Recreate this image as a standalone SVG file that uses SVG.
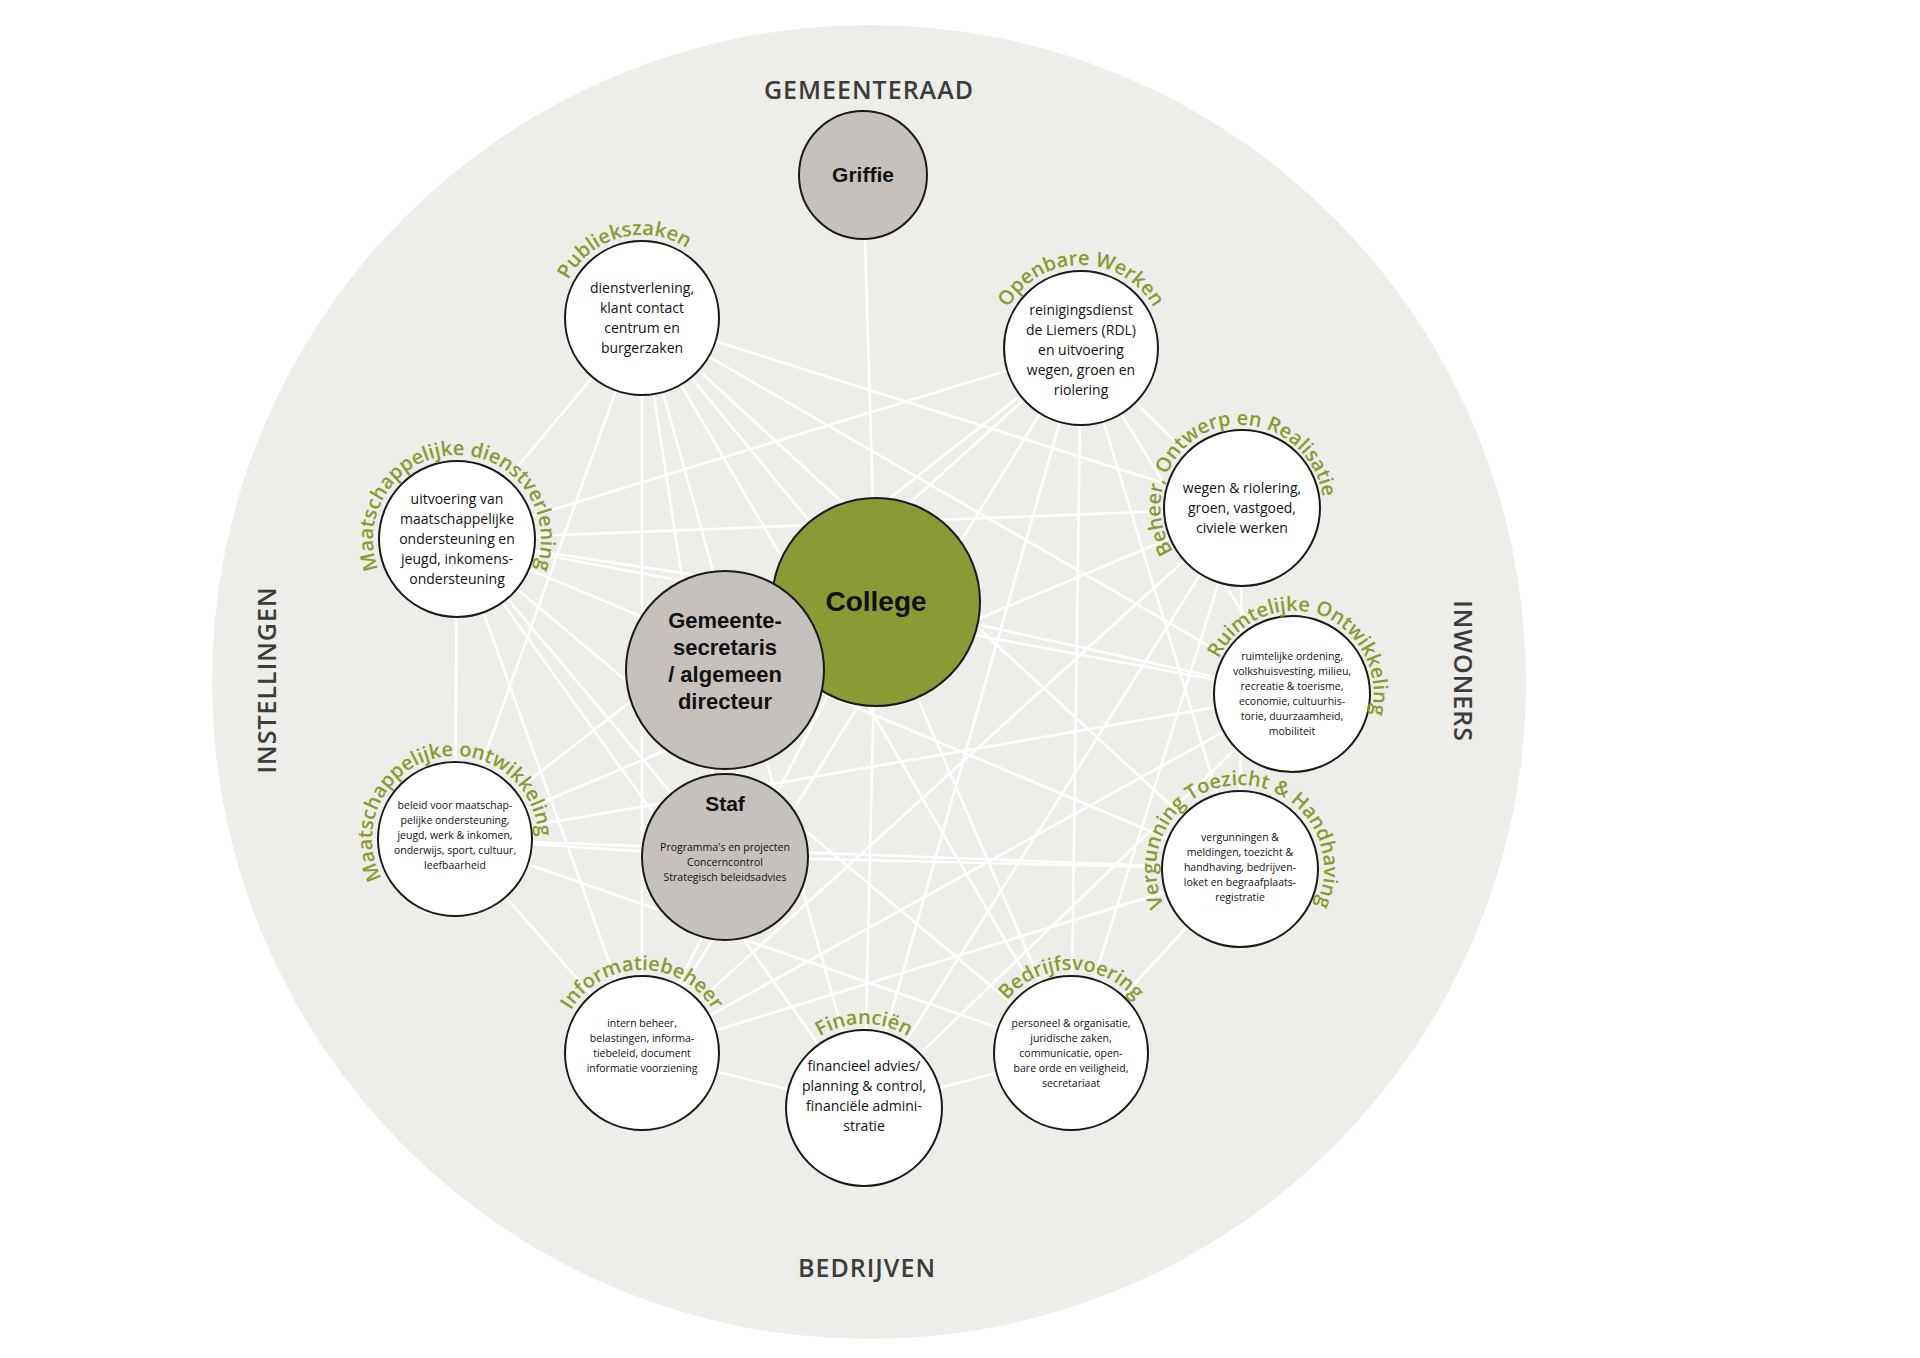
<svg xmlns="http://www.w3.org/2000/svg" width="1920" height="1358" viewBox="0 0 1920 1358">
<style>
.n{fill:#fff;stroke:#1a1a1a;stroke-width:2}
.g{fill:#c6c1bd;stroke:#1a1a1a;stroke-width:2}
.t{font-family:"Open Sans","Liberation Sans",sans-serif;font-size:14px;fill:#111;text-anchor:middle}
.s{font-family:"Open Sans","Liberation Sans",sans-serif;font-size:10.5px;fill:#111;text-anchor:middle}
.l{font-family:"Open Sans","Liberation Sans",sans-serif;font-size:20px;font-weight:600;fill:#8a9a2f;text-anchor:middle}
.b{font-family:"Liberation Sans",Arial,sans-serif;font-weight:bold;fill:#111;text-anchor:middle}
.h{font-family:"Open Sans","Liberation Sans",sans-serif;font-size:25px;font-weight:600;fill:#3c3c3c;text-anchor:middle;letter-spacing:1px}
#connectors line{stroke:#fff;stroke-width:2.5}
</style>
<defs>
<path id="pPub" d="M663.5,398.2 A83,83 0 0 1 620.5,237.8 A83,83 0 0 1 663.5,398.2"/>
<path id="pOW" d="M1081,431 A83,83 0 0 1 1081,265 A83,83 0 0 1 1081,431"/>
<path id="pBeh" d="M1270.7,586.9 A84,84 0 0 1 1213.3,429.1 A84,84 0 0 1 1270.7,586.9"/>
<path id="pRO" d="M1263.3,772.9 A84,84 0 0 1 1320.7,615.1 A84,84 0 0 1 1263.3,772.9"/>
<path id="pVTH" d="M1240,953 A84,84 0 0 1 1240,785 A84,84 0 0 1 1240,953"/>
<path id="pBV" d="M1071,1136 A83,83 0 0 1 1071,970 A83,83 0 0 1 1071,1136"/>
<path id="pFin" d="M864,1192 A84,84 0 0 1 864,1024 A84,84 0 0 1 864,1192"/>
<path id="pIB" d="M642,1136 A83,83 0 0 1 642,970 A83,83 0 0 1 642,1136"/>
<path id="pMO" d="M476.5,919.2 A83,83 0 0 1 433.5,758.8 A83,83 0 0 1 476.5,919.2"/>
<path id="pMD" d="M457,623 A84,84 0 0 1 457,455 A84,84 0 0 1 457,623"/>
</defs>
<rect width="1920" height="1358" fill="#fff"/>
<circle cx="869" cy="682" r="657" fill="#edede9"/>
<text class="h" x="869" y="99">GEMEENTERAAD</text>
<text class="h" x="867" y="1277">BEDRIJVEN</text>
<text class="h" transform="translate(276,680) rotate(-90)">INSTELLINGEN</text>
<text class="h" transform="translate(1454,671) rotate(90)">INWONERS</text>
<g id="connectors">
<line x1="863" y1="175" x2="876" y2="602"/>
<line x1="642" y1="318" x2="457" y2="539"/>
<line x1="642" y1="318" x2="642" y2="1053"/>
<line x1="642" y1="318" x2="725" y2="857"/>
<line x1="642" y1="318" x2="876" y2="602"/>
<line x1="642" y1="318" x2="1242" y2="508"/>
<line x1="642" y1="318" x2="1292" y2="694"/>
<line x1="642" y1="318" x2="1240" y2="869"/>
<line x1="642" y1="318" x2="1071" y2="1053"/>
<line x1="642" y1="318" x2="864" y2="1108"/>
<line x1="642" y1="318" x2="455" y2="839"/>
<line x1="1081" y1="348" x2="457" y2="539"/>
<line x1="1081" y1="348" x2="455" y2="839"/>
<line x1="1081" y1="348" x2="642" y2="1053"/>
<line x1="1081" y1="348" x2="864" y2="1108"/>
<line x1="1081" y1="348" x2="1071" y2="1053"/>
<line x1="1081" y1="348" x2="1240" y2="869"/>
<line x1="1081" y1="348" x2="1292" y2="694"/>
<line x1="1081" y1="348" x2="1242" y2="508"/>
<line x1="1081" y1="348" x2="725" y2="670"/>
<line x1="1242" y1="508" x2="457" y2="539"/>
<line x1="1242" y1="508" x2="455" y2="839"/>
<line x1="1242" y1="508" x2="642" y2="1053"/>
<line x1="1242" y1="508" x2="864" y2="1108"/>
<line x1="1242" y1="508" x2="1071" y2="1053"/>
<line x1="1242" y1="508" x2="1240" y2="869"/>
<line x1="1292" y1="694" x2="457" y2="539"/>
<line x1="1292" y1="694" x2="455" y2="839"/>
<line x1="1292" y1="694" x2="642" y2="1053"/>
<line x1="1292" y1="694" x2="864" y2="1108"/>
<line x1="1292" y1="694" x2="876" y2="602"/>
<line x1="1240" y1="869" x2="457" y2="539"/>
<line x1="1240" y1="869" x2="455" y2="839"/>
<line x1="1240" y1="869" x2="642" y2="1053"/>
<line x1="1240" y1="869" x2="1071" y2="1053"/>
<line x1="1240" y1="869" x2="725" y2="857"/>
<line x1="1071" y1="1053" x2="457" y2="539"/>
<line x1="1071" y1="1053" x2="455" y2="839"/>
<line x1="1071" y1="1053" x2="864" y2="1108"/>
<line x1="1071" y1="1053" x2="876" y2="602"/>
<line x1="864" y1="1108" x2="457" y2="539"/>
<line x1="864" y1="1108" x2="642" y2="1053"/>
<line x1="864" y1="1108" x2="876" y2="602"/>
<line x1="642" y1="1053" x2="455" y2="839"/>
<line x1="642" y1="1053" x2="457" y2="539"/>
<line x1="642" y1="1053" x2="876" y2="602"/>
<line x1="455" y1="839" x2="457" y2="539"/>
<line x1="455" y1="839" x2="725" y2="857"/>
<line x1="457" y1="539" x2="876" y2="602"/>
<line x1="457" y1="539" x2="725" y2="857"/>
</g>
<g id="griffie"><circle class="g" cx="863" cy="175" r="64"/><text class="b" x="863" y="182" font-size="21">Griffie</text></g>
<g id="publiekszaken"><circle class="n" cx="642" cy="318" r="77"/>
<text class="t"><tspan x="642" y="293">dienstverlening,</tspan><tspan x="642" y="313">klant contact</tspan><tspan x="642" y="333">centrum en</tspan><tspan x="642" y="353">burgerzaken</tspan></text>
<text class="l"><textPath href="#pPub" startOffset="50%">Publiekszaken</textPath></text></g>
<g id="openbare-werken"><circle class="n" cx="1081" cy="348" r="77"/>
<text class="t"><tspan x="1081" y="315">reinigingsdienst</tspan><tspan x="1081" y="335">de Liemers (RDL)</tspan><tspan x="1081" y="355">en uitvoering</tspan><tspan x="1081" y="375">wegen, groen en</tspan><tspan x="1081" y="395">riolering</tspan></text>
<text class="l"><textPath href="#pOW" startOffset="50%">Openbare Werken</textPath></text></g>
<g id="beheer"><circle class="n" cx="1242" cy="508" r="78"/>
<text class="t"><tspan x="1242" y="493">wegen &amp; riolering,</tspan><tspan x="1242" y="513">groen, vastgoed,</tspan><tspan x="1242" y="533">civiele werken</tspan></text>
<text class="l"><textPath href="#pBeh" startOffset="50%">Beheer, Ontwerp en Realisatie</textPath></text></g>
<g id="ruimtelijke"><circle class="n" cx="1292" cy="694" r="78"/>
<text class="s"><tspan x="1292" y="660">ruimtelijke ordening,</tspan><tspan x="1292" y="675">volkshuisvesting, milieu,</tspan><tspan x="1292" y="690">recreatie &amp; toerisme,</tspan><tspan x="1292" y="705">economie, cultuurhis-</tspan><tspan x="1292" y="720">torie, duurzaamheid,</tspan><tspan x="1292" y="735">mobiliteit</tspan></text>
<text class="l"><textPath href="#pRO" startOffset="50%">Ruimtelijke Ontwikkeling</textPath></text></g>
<g id="vergunning"><circle class="n" cx="1240" cy="869" r="78"/>
<text class="s"><tspan x="1240" y="841">vergunningen &amp;</tspan><tspan x="1240" y="856">meldingen, toezicht &amp;</tspan><tspan x="1240" y="871">handhaving, bedrijven-</tspan><tspan x="1240" y="886">loket en begraafplaats-</tspan><tspan x="1240" y="901">registratie</tspan></text>
<text class="l"><textPath href="#pVTH" startOffset="50%">Vergunning Toezicht &amp; Handhaving</textPath></text></g>
<g id="bedrijfsvoering"><circle class="n" cx="1071" cy="1053" r="77"/>
<text class="s"><tspan x="1071" y="1027">personeel &amp; organisatie,</tspan><tspan x="1071" y="1042">juridische zaken,</tspan><tspan x="1071" y="1057">communicatie,  open-</tspan><tspan x="1071" y="1072">bare orde en veiligheid,</tspan><tspan x="1071" y="1087">secretariaat</tspan></text>
<text class="l"><textPath href="#pBV" startOffset="50%">Bedrijfsvoering</textPath></text></g>
<g id="financien"><circle class="n" cx="864" cy="1108" r="78"/>
<text class="t"><tspan x="864" y="1071">financieel advies/</tspan><tspan x="864" y="1091">planning &amp; control,</tspan><tspan x="864" y="1111">financiële admini-</tspan><tspan x="864" y="1131">stratie</tspan></text>
<text class="l"><textPath href="#pFin" startOffset="50%">Financiën</textPath></text></g>
<g id="informatiebeheer"><circle class="n" cx="642" cy="1053" r="77"/>
<text class="s"><tspan x="642" y="1027">intern beheer,</tspan><tspan x="642" y="1042">belastingen, informa-</tspan><tspan x="642" y="1057">tiebeleid, document</tspan><tspan x="642" y="1072">informatie voorziening</tspan></text>
<text class="l"><textPath href="#pIB" startOffset="50%">Informatiebeheer</textPath></text></g>
<g id="maatsch-ontwikkeling"><circle class="n" cx="455" cy="839" r="77"/>
<text class="s"><tspan x="455" y="809">beleid voor maatschap-</tspan><tspan x="455" y="824">pelijke ondersteuning,</tspan><tspan x="455" y="839">jeugd, werk &amp; inkomen,</tspan><tspan x="455" y="854">onderwijs, sport, cultuur,</tspan><tspan x="455" y="869">leefbaarheid</tspan></text>
<text class="l"><textPath href="#pMO" startOffset="50%">Maatschappelijke ontwikkeling</textPath></text></g>
<g id="maatsch-dienstverlening"><circle class="n" cx="457" cy="539" r="78"/>
<text class="t"><tspan x="457" y="504">uitvoering van</tspan><tspan x="457" y="524">maatschappelijke</tspan><tspan x="457" y="544">ondersteuning en</tspan><tspan x="457" y="564">jeugd, inkomens-</tspan><tspan x="457" y="584">ondersteuning</tspan></text>
<text class="l"><textPath href="#pMD" startOffset="50%">Maatschappelijke dienstverlening</textPath></text></g>
<g id="college"><circle cx="876" cy="602" r="104" fill="#8a9a34" stroke="#1a1a1a" stroke-width="2"/><text class="b" x="876" y="611" font-size="28">College</text></g>
<g id="gemeentesecretaris"><circle class="g" cx="725" cy="670" r="99"/>
<text class="b" font-size="22"><tspan x="725" y="628">Gemeente-</tspan><tspan x="725" y="655">secretaris</tspan><tspan x="725" y="682">/ algemeen</tspan><tspan x="725" y="709">directeur</tspan></text></g>
<g id="staf"><circle class="g" cx="725" cy="857" r="83"/>
<text class="b" x="725" y="811" font-size="21">Staf</text>
<text class="s"><tspan x="725" y="851">Programma's en projecten</tspan><tspan x="725" y="866">Concerncontrol</tspan><tspan x="725" y="881">Strategisch beleidsadvies</tspan></text></g>
</svg>
